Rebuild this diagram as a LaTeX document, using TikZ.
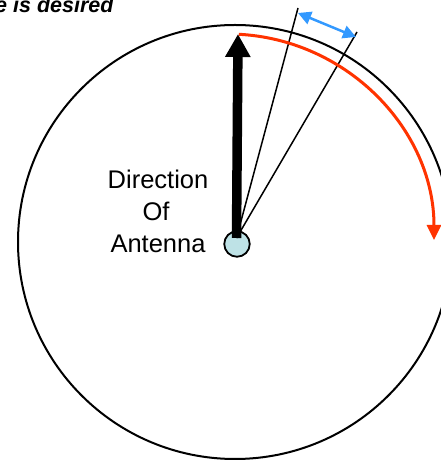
\documentclass[tikz,border=0pt]{standalone}
\usepackage{fontspec}
\setmainfont{Liberation Sans}
\usetikzlibrary{arrows.meta}
\definecolor{arcred}{RGB}{255,51,0}
\definecolor{spanblue}{RGB}{51,153,255}
\definecolor{antfill}{RGB}{190,226,230}
\tikzset{
  dial/.style={draw=black,line width=2pt},
  beam/.style={draw=black,line width=1.5pt},
  label/.style={font=\fontsize{25.5}{30}\selectfont,inner sep=0pt,anchor=base},
}
\begin{document}
\begin{tikzpicture}[x=1pt,y=1pt]
\useasboundingbox (0,0) rectangle (440,460);
% big dial circle
\coordinate (dc) at (235,218);
\draw[dial] (dc) circle[radius=217];
% antenna
\node[circle,draw=black,line width=1.8pt,fill=antfill,minimum size=25.5pt,inner sep=0pt] (ant) at (237,216) {};
\coordinate (foot) at (236.5,222);
\coordinate (tip) at (238,426);
\coordinate (b1) at (298,452);
\coordinate (b2) at (357,428);
% beam lines
\draw[beam] (foot) -- (b1);
\draw[beam] (foot) -- (b2);
% direction arrow
\draw[line width=9.5pt,-{Triangle[length=23pt,width=24pt]}] (foot) -- (tip);
% blue span arrow
\coordinate (s1) at (298,447);
\coordinate (s2) at (356,423);
\draw[spanblue,line width=2.5pt,{Triangle[length=13pt,width=13pt]}-{Triangle[length=13pt,width=13pt]}] (s1) -- (s2);
% red rotation arc
\coordinate (rc) at (228,220);
\draw[arcred,line width=3pt,-{Triangle[length=15pt,width=14pt]}] ([shift={(87:206)}]rc) arc[start angle=87,end angle=0,radius=206];
% labels
\node[label] (t1) at (158,271) {Direction};
\node[label] (t2) at (156,239) {Of};
\node[label] (t3) at (158,207) {Antenna};
\node[font=\fontsize{21.5}{24}\selectfont\bfseries\itshape,inner sep=0pt,anchor=base west] (top) at (-5,447) {e is desired};
\end{tikzpicture}
\end{document}
